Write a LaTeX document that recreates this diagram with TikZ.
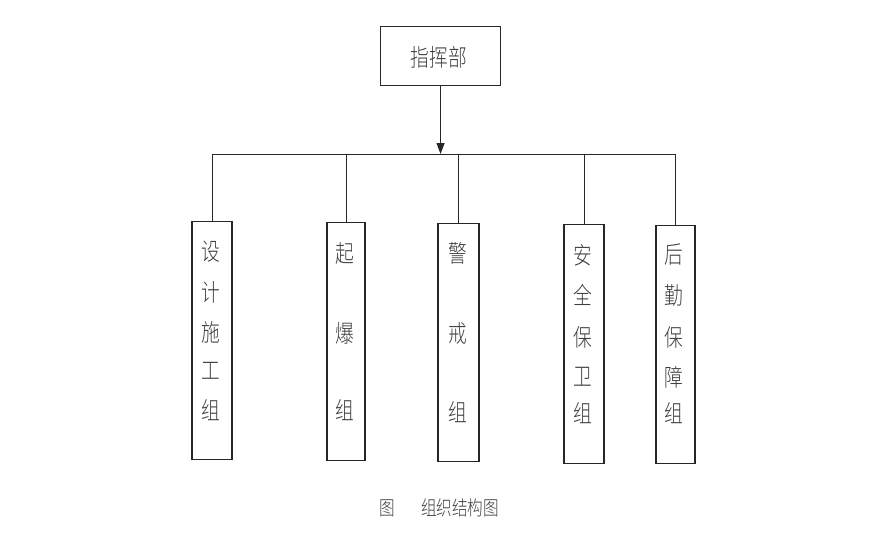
\documentclass[tikz,border=0pt]{standalone}
\usepackage{fontspec}
\newfontfamily\cjk[FakeStretch=0.78]{Noto Sans CJK SC Light}
\usetikzlibrary{arrows.meta}
\begin{document}
\begin{tikzpicture}[x=1pt,y=-1pt,
  box/.style={draw=black!85,line width=1.1pt,minimum width=40pt,inner sep=0pt},
  lab/.style={font=\cjk\fontsize{24}{24}\selectfont,text=black!75,inner sep=0pt},
  caplab/.style={font=\cjk\fontsize{20}{20}\selectfont,text=black!75,inner sep=0pt},
  conn/.style={draw=black!85,line width=1pt}]
\useasboundingbox (0,0) rectangle (876,546);
\node[box,minimum width=120pt,minimum height=59pt,anchor=north west] (top) at (380,26) {};
\node[lab] (toplab) at (439,57) {指挥部};
\coordinate (bus) at (0,154);
\node[box,minimum height=238pt,anchor=north] (b1) at (212,221) {};
\node[box,minimum height=238pt,minimum width=38pt,anchor=north] (b2) at (346,222) {};
\node[box,minimum height=238pt,minimum width=41pt,anchor=north] (b3) at (458.5,223) {};
\node[box,minimum height=239pt,anchor=north] (b4) at (584,224) {};
\node[box,minimum height=238pt,minimum width=39pt,anchor=north] (b5) at (675.5,225) {};
% labels
\node[lab] (t11) at (211,252) {设};
\node[lab] (t12) at (211,292) {计};
\node[lab] (t13) at (211,332) {施};
\node[lab] (t14) at (211,371) {工};
\node[lab] (t15) at (211,410) {组};
\node[lab] (t21) at (345,253) {起};
\node[lab] (t22) at (345,333) {爆};
\node[lab] (t23) at (345,410) {组};
\node[lab] (t31) at (458,253) {警};
\node[lab] (t32) at (458,333) {戒};
\node[lab] (t33) at (458,412) {组};
\node[lab] (t41) at (583,255) {安};
\node[lab] (t42) at (583,295) {全};
\node[lab] (t43) at (583,337) {保};
\node[lab] (t44) at (583,377) {卫};
\node[lab] (t45) at (583,413) {组};
\node[lab] (t51) at (674,255) {后};
\node[lab] (t52) at (674,295) {勤};
\node[lab] (t53) at (674,337) {保};
\node[lab] (t54) at (674,377) {障};
\node[lab] (t55) at (674,413) {组};
% connectors
\draw[conn,-{Triangle[length=11pt,width=8pt]}] (top.south) -- (top.south |- bus);
\draw[conn] (b1.north |- bus) -- (b5.north |- bus);
\foreach \b in {b1,b2,b3,b4,b5} \draw[conn] (\b.north) -- (\b.north |- bus);
% caption
\node[caplab] (cap1) at (387,508) {图};
\node[caplab] (cap2) at (460,508) {组织结构图};
\end{tikzpicture}
\end{document}
